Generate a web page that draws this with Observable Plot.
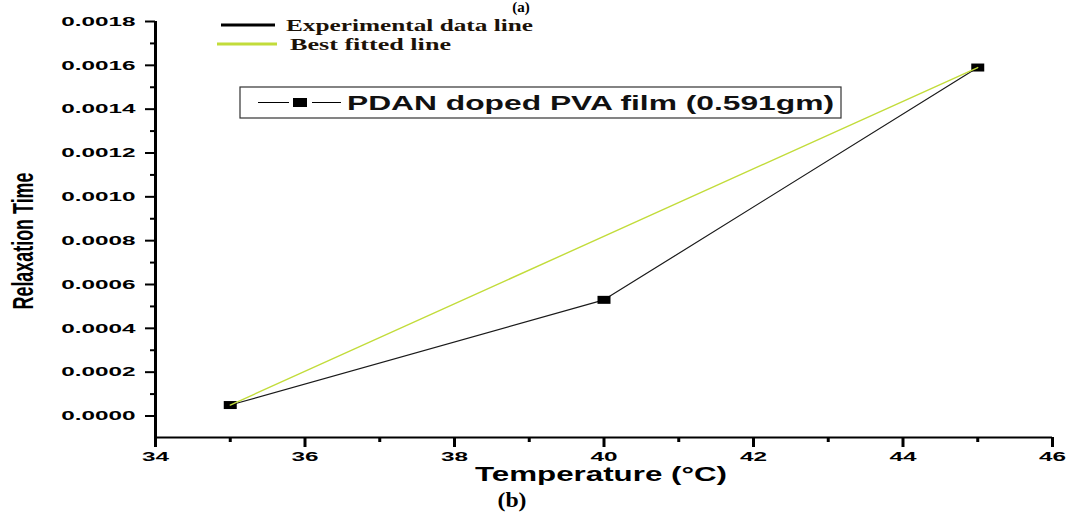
<!DOCTYPE html>
<html>
<head>
<meta charset="utf-8">
<script src="https://cdn.jsdelivr.net/npm/d3@7"></script>
<script src="https://cdn.jsdelivr.net/npm/@observablehq/plot@0.6"></script>
<style>
  body { margin: 0; background: #fff; }
  #chart { width: 1067px; height: 514px; }
</style>
</head>
<body>
<div id="chart"></div>
<script>
// Relaxation time of a PDAN doped PVA film versus temperature
const temperatures = [35, 40, 45];
const relaxationTimes = [0.00005, 0.00053, 0.00159];
const fitTemperatures = [35, 45];
const fitRelaxationTimes = [0.00005, 0.00159];

const yTickValues = [0, 0.0002, 0.0004, 0.0006, 0.0008, 0.0010, 0.0012, 0.0014, 0.0016, 0.0018];
const yMinorTickValues = [0.0001, 0.0003, 0.0005, 0.0007, 0.0009, 0.0011, 0.0013, 0.0015, 0.0017];
const xTickValues = [34, 36, 38, 40, 42, 44, 46];
const xMinorTickValues = [35, 37, 39, 41, 43, 45];

const seriesLabel = "PDAN doped PVA film (0.591gm)";
const lineLabels = ["Experimental data line", "Best fitted line"];
const xTitle = "Temperature (\u00B0C)";
const yTitle = "Relaxation Time";
const panelLabels = ["(a)", "(b)"];

const yDomain = [-0.0000981, 0.0018];
const fitColor = "#c2dc3a";

const experimental = temperatures.map((t, i) => ({t, v: relaxationTimes[i]}));
const fitted = fitTemperatures.map((t, i) => ({t, v: fitRelaxationTimes[i]}));

// flat rectangular marker used for the measured points
const flatSquare = {draw(ctx) { ctx.rect(-6.5, -4, 13, 8); }};

const tickFont = "'Liberation Sans', Arial, sans-serif";

const plot = Plot.plot({
  width: 1067,
  height: 514,
  marginLeft: 155,
  marginRight: 15,
  marginTop: 21,
  marginBottom: 77,
  style: {background: "#fff", color: "#000", overflow: "visible"},
  x: {domain: [34, 46]},
  y: {domain: yDomain},
  marks: [
    Plot.axisY({ticks: yTickValues, tickSize: 10, tickPadding: 10, strokeWidth: 2,
      tickFormat: d => d.toFixed(4), fontSize: 13.5, fontWeight: "bold", fontFamily: tickFont, label: null}),
    Plot.axisY({ticks: yMinorTickValues, tickSize: 5, strokeWidth: 2, tickFormat: () => "", label: null}),
    Plot.axisX({ticks: xTickValues, tickSize: 10, tickPadding: 4, strokeWidth: 3,
      tickFormat: d => String(d), fontSize: 13.5, fontWeight: "bold", fontFamily: tickFont, label: null}),
    Plot.axisX({ticks: xMinorTickValues, tickSize: 5, strokeWidth: 3, tickFormat: () => "", label: null}),
    Plot.ruleX([34], {strokeWidth: 3}),
    Plot.ruleY([yDomain[0]], {strokeWidth: 2}),
    Plot.line(experimental, {x: "t", y: "v", stroke: "#1a1a1a", strokeWidth: 1.2}),
    Plot.dot(experimental, {x: "t", y: "v", symbol: flatSquare, fill: "#000", stroke: "none", r: 5}),
    Plot.line(fitted, {x: "t", y: "v", stroke: fitColor, strokeWidth: 1.4})
  ]
});

document.getElementById("chart").appendChild(plot);

const svg = d3.select(plot);

// widen the tick labels
svg.selectAll("g[aria-label='y-axis tick label'] text, g[aria-label='x-axis tick label'] text")
  .each(function() {
    const len = this.getComputedTextLength();
    if (len > 0) d3.select(this).attr("textLength", len * 1.8).attr("lengthAdjust", "spacingAndGlyphs");
  });

const deco = svg.append("g").attr("class", "annotations").attr("text-anchor", "start");

function addText(g, txt, attrs) {
  const t = g.append("text").text(txt).attr("text-anchor", "start");
  for (const [k, v] of Object.entries(attrs)) t.attr(k, v);
  return t;
}

// axis titles
addText(deco, yTitle, {
  transform: "translate(33,241) rotate(-90)", "text-anchor": "middle",
  "font-family": "'Liberation Sans Narrow', 'Liberation Sans', Arial, sans-serif",
  "font-weight": "bold", "font-size": 30, textLength: 137, lengthAdjust: "spacingAndGlyphs", fill: "#000"
});
addText(deco, xTitle, {
  x: 601, y: 481, "text-anchor": "middle",
  "font-family": "'Liberation Sans Narrow', 'Liberation Sans', Arial, sans-serif",
  "font-weight": "bold", "font-size": 21, textLength: 252, lengthAdjust: "spacingAndGlyphs", fill: "#000"
});

// panel labels
const serif = "'Liberation Serif', 'Times New Roman', serif";
addText(deco, panelLabels[0], {x: 521, y: 12, "text-anchor": "middle", "font-family": serif,
  "font-weight": "bold", "font-size": 15, fill: "#000"});
addText(deco, panelLabels[1], {x: 512, y: 507, "text-anchor": "middle", "font-family": serif,
  "font-weight": "bold", "font-size": 22, textLength: 29, lengthAdjust: "spacingAndGlyphs", fill: "#000"});

// line key
deco.append("line").attr("x1", 221).attr("x2", 275).attr("y1", 25).attr("y2", 25)
  .attr("stroke", "#000").attr("stroke-width", 3);
deco.append("line").attr("x1", 217).attr("x2", 277).attr("y1", 44).attr("y2", 44)
  .attr("stroke", fitColor).attr("stroke-width", 3);
addText(deco, lineLabels[0], {x: 286, y: 30.5, "font-family": serif, "font-weight": "bold",
  "font-size": 16, textLength: 247, lengthAdjust: "spacingAndGlyphs", fill: "#1c1208"});
addText(deco, lineLabels[1], {x: 290, y: 49.5, "font-family": serif, "font-weight": "bold",
  "font-size": 16, textLength: 161, lengthAdjust: "spacingAndGlyphs", fill: "#1c1208"});

// series legend box
const box = deco.append("g");
box.append("rect").attr("x", 240).attr("y", 87).attr("width", 601).attr("height", 31)
  .attr("fill", "#fff").attr("stroke", "#333").attr("stroke-width", 1.2);
box.append("line").attr("x1", 258).attr("x2", 289).attr("y1", 102.5).attr("y2", 102.5)
  .attr("stroke", "#000").attr("stroke-width", 1);
box.append("rect").attr("x", 293).attr("y", 98).attr("width", 14).attr("height", 9).attr("fill", "#000");
box.append("line").attr("x1", 312).attr("x2", 341).attr("y1", 102.5).attr("y2", 102.5)
  .attr("stroke", "#000").attr("stroke-width", 1);
addText(box, seriesLabel, {x: 347, y: 110, "font-family": tickFont, "font-weight": "bold",
  "font-size": 20, textLength: 487, lengthAdjust: "spacingAndGlyphs", fill: "#111"});
</script>
</body>
</html>
